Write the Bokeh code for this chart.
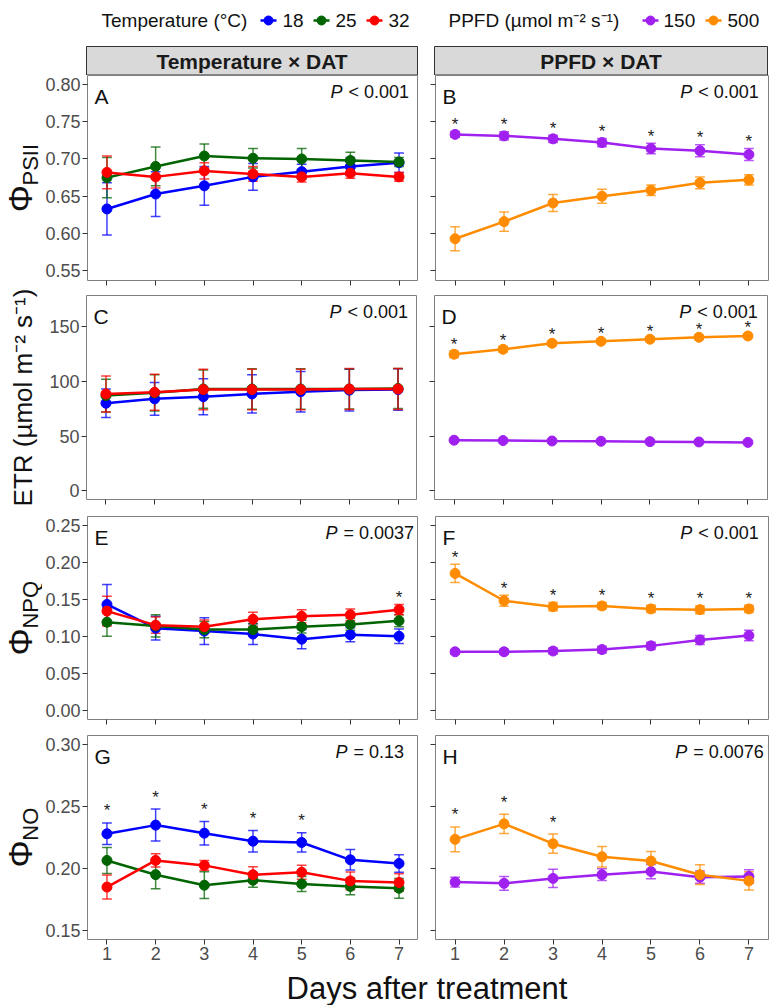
import math
from bokeh.plotting import figure
from bokeh.layouts import column, row
from bokeh.models import Label, Range1d, FixedTicker, NumeralTickFormatter, ColumnDataSource
from bokeh.embed import file_html
from bokeh.resources import INLINE
from bokeh.core.properties import value

FONT = "Liberation Sans"

# ---------------------------------------------------------------- data
days = [1, 2, 3, 4, 5, 6, 7]
temp_levels = ["18", "25", "32"]
ppfd_levels = ["150", "500"]

# Phi PSII
psii_temp_mean = {
    "18": [0.633, 0.653, 0.664, 0.676, 0.683, 0.690, 0.695],
    "25": [0.675, 0.690, 0.704, 0.701, 0.700, 0.698, 0.696],
    "32": [0.682, 0.676, 0.684, 0.680, 0.676, 0.681, 0.676],
}
psii_temp_se = {
    "18": [0.035, 0.030, 0.026, 0.018, 0.010, 0.012, 0.013],
    "25": [0.027, 0.026, 0.016, 0.013, 0.014, 0.011, 0.006],
    "32": [0.022, 0.015, 0.011, 0.010, 0.007, 0.007, 0.006],
}
psii_ppfd_mean = {
    "150": [0.733, 0.731, 0.727, 0.722, 0.714, 0.711, 0.706],
    "500": [0.593, 0.616, 0.641, 0.650, 0.658, 0.668, 0.672],
}
psii_ppfd_se = {
    "150": [0.004, 0.0055, 0.005, 0.0055, 0.007, 0.008, 0.008],
    "500": [0.016, 0.013, 0.0115, 0.0095, 0.007, 0.008, 0.007],
}

# ETR
etr_temp_mean = {
    "18": [80.0, 84.0, 86.0, 88.5, 90.5, 92.0, 92.5],
    "25": [87.0, 89.5, 93.0, 93.0, 93.0, 93.0, 93.5],
    "32": [88.5, 90.0, 92.5, 92.5, 92.5, 93.0, 93.0],
}
etr_temp_se = {
    "18": [13.0, 15.0, 16.5, 17.5, 18.5, 19.0, 19.0],
    "25": [15.0, 16.5, 17.5, 18.5, 18.5, 18.3, 18.3],
    "32": [16.5, 16.5, 18.5, 18.5, 18.5, 18.7, 18.7],
}
etr_ppfd_mean = {
    "150": [46.2, 45.9, 45.5, 45.2, 44.9, 44.6, 44.2],
    "500": [124.8, 129.3, 134.8, 136.6, 138.5, 140.3, 141.5],
}
etr_ppfd_se = {
    "150": [1.1, 1.0, 1.0, 1.0, 1.0, 1.0, 1.0],
    "500": [3.0, 2.5, 2.2, 2.0, 2.0, 2.0, 2.0],
}

# Phi NPQ
npq_temp_mean = {
    "18": [0.143, 0.111, 0.107, 0.103, 0.096, 0.102, 0.100],
    "25": [0.119, 0.114, 0.109, 0.109, 0.113, 0.116, 0.121],
    "32": [0.134, 0.115, 0.113, 0.123, 0.127, 0.129, 0.136],
}
npq_temp_se = {
    "18": [0.027, 0.016, 0.018, 0.014, 0.013, 0.0095, 0.0097],
    "25": [0.019, 0.015, 0.011, 0.008, 0.0085, 0.008, 0.008],
    "32": [0.020, 0.011, 0.009, 0.0095, 0.0088, 0.008, 0.0068],
}
npq_ppfd_mean = {
    "150": [0.079, 0.079, 0.080, 0.082, 0.087, 0.095, 0.101],
    "500": [0.185, 0.148, 0.140, 0.141, 0.137, 0.136, 0.137],
}
npq_ppfd_se = {
    "150": [0.003, 0.0035, 0.004, 0.0045, 0.005, 0.006, 0.007],
    "500": [0.0124, 0.0074, 0.0056, 0.0045, 0.005, 0.0054, 0.005],
}

# Phi NO
no_temp_mean = {
    "18": [0.228, 0.235, 0.2285, 0.222, 0.221, 0.207, 0.204],
    "25": [0.2065, 0.195, 0.1865, 0.1905, 0.1875, 0.1855, 0.184],
    "32": [0.185, 0.2065, 0.2025, 0.195, 0.197, 0.190, 0.1887],
}
no_temp_se = {
    "18": [0.0087, 0.0129, 0.0095, 0.0086, 0.0078, 0.0083, 0.007],
    "25": [0.0105, 0.0114, 0.0108, 0.0056, 0.006, 0.0067, 0.008],
    "32": [0.0097, 0.0054, 0.004, 0.0063, 0.0056, 0.0071, 0.007],
}
no_ppfd_mean = {
    "150": [0.189, 0.188, 0.192, 0.195, 0.1975, 0.193, 0.1935],
    "500": [0.2235, 0.236, 0.220, 0.2095, 0.206, 0.195, 0.190],
}
no_ppfd_se = {
    "150": [0.004, 0.0056, 0.0074, 0.0047, 0.0058, 0.005, 0.0054],
    "500": [0.010, 0.0077, 0.0078, 0.0083, 0.0077, 0.008, 0.0074],
}

# days with a significant difference between levels
stars_A = []
stars_B = [1, 2, 3, 4, 5, 6, 7]
stars_C = []
stars_D = [1, 2, 3, 4, 5, 6, 7]
stars_E = [7]
stars_F = [1, 2, 3, 4, 5, 6, 7]
stars_G = [1, 2, 3, 4, 5]
stars_H = [1, 2, 3]

p_values = {"A": "< 0.001", "B": "< 0.001", "C": "< 0.001", "D": "< 0.001",
            "E": "= 0.0037", "F": "< 0.001", "G": "= 0.13", "H": "= 0.0076"}

psii_ticks = [0.55, 0.60, 0.65, 0.70, 0.75, 0.80]
etr_ticks = [0, 50, 100, 150]
npq_ticks = [0.00, 0.05, 0.10, 0.15, 0.20, 0.25]
no_ticks = [0.15, 0.20, 0.25, 0.30]

TEMP_COLORS = {"18": "#0000FF", "25": "#006400", "32": "#FF0000"}
PPFD_COLORS = {"150": "#A020F0", "500": "#FF8C00"}

# ---------------------------------------------------------------- helpers
# Arial-compatible advance widths (em) for the characters used in labels
ADV = {"P": 0.667, "S": 0.667, "I": 0.278, "N": 0.722, "Q": 0.778, "O": 0.778,
       " ": 0.278, "<": 0.584, "=": 0.584, ".": 0.278, "Φ": 0.78}


def text_width(s, size):
    return sum(ADV.get(c, 0.556) for c in s) * size


TITLE_W = 42                 # column holding the y axis titles
LEFT_W, RIGHT_W = 331, 333   # panel frame widths
ROW_H = [205, 204, 203, 204]  # panel frame heights
ROW_GAP = [15, 17, 16, 30]    # space below each row of panels
HEADER_H = 75


def style_axes(p, show_x, show_y):
    p.xaxis.ticker = FixedTicker(ticks=days)
    for ax in (p.xaxis[0], p.yaxis[0]):
        ax.axis_line_color = None
        ax.major_tick_line_color = "#333333"
        ax.major_tick_out = 5
        ax.major_tick_in = 0
        ax.minor_tick_line_color = None
        ax.major_label_text_font = FONT
        ax.major_label_text_font_size = "18px"
        ax.major_label_text_color = "#4d4d4d"
        ax.major_label_standoff = 2
    if not show_x:
        p.xaxis.major_label_text_font_size = "1px"
        p.xaxis.major_label_text_color = None
        p.xaxis.major_label_standoff = 0
    if not show_y:
        p.yaxis.major_label_text_font_size = "1px"
        p.yaxis.major_label_text_color = None
        p.yaxis.major_label_standoff = 0
    p.xgrid.visible = False
    p.ygrid.visible = False
    p.outline_line_color = "#808080"
    p.outline_line_width = 1
    p.background_fill_color = "white"
    p.border_fill_color = "white"


def make_panel(means, ses, levels, colors, yr, yticks, fmt, row_i, left_col,
               letter, star_days, star_off):
    fw = LEFT_W if left_col else RIGHT_W
    fh = ROW_H[row_i]
    p = figure(frame_width=fw, frame_height=fh,
               x_range=Range1d(0.6, 7.4), y_range=Range1d(*yr),
               output_backend="svg", toolbar_location=None,
               min_border_left=86 - TITLE_W if left_col else 17,
               min_border_right=0 if left_col else 2,
               min_border_top=0, min_border_bottom=ROW_GAP[row_i])
    style_axes(p, show_x=(row_i == 3), show_y=left_col)
    p.yaxis.ticker = FixedTicker(ticks=yticks)
    p.yaxis.formatter = NumeralTickFormatter(format=fmt)

    sources = {}
    for lv in levels:
        m, s = means[lv], ses[lv]
        sources[lv] = ColumnDataSource(dict(
            x=days, y=m,
            lo=[a - b for a, b in zip(m, s)],
            hi=[a + b for a, b in zip(m, s)],
            xl=[d - 0.1 for d in days],
            xr=[d + 0.1 for d in days],
        ))
    # error bars
    for lv in levels:
        src, c = sources[lv], colors[lv]
        for x0, y0, x1, y1 in (("x", "lo", "x", "hi"), ("xl", "lo", "xr", "lo"),
                               ("xl", "hi", "xr", "hi")):
            p.segment(x0, y0, x1, y1, source=src, line_color=c, line_width=1.5,
                      line_alpha=0.75)
    # mean lines
    for lv in levels:
        p.line("x", "y", source=sources[lv], line_color=colors[lv], line_width=2.5)
    # mean points
    for lv in levels:
        p.scatter("x", "y", source=sources[lv], size=10,
                  fill_color=colors[lv], line_color=colors[lv])

    # significance marks above the highest error bar of each day
    if star_days:
        sy = [max(means[lv][d - 1] + ses[lv][d - 1] for lv in levels) for d in star_days]
        p.text(x=star_days, y=sy, text=["*"] * len(star_days),
               text_font=value(FONT), text_font_size="17px", text_color="#222222",
               text_align="center", text_baseline="alphabetic", y_offset=star_off)

    # panel letter
    p.add_layout(Label(x=7, y=fh - 9, x_units="screen", y_units="screen", text=letter,
                       text_font=FONT, text_font_size="21px", text_color="#111111",
                       text_align="left", text_baseline="top"))
    # P value, centred at day 6.4
    rest = p_values[letter]
    size = 18
    gap = 6
    w_p = text_width("P", size)
    total = w_p + gap + text_width(rest, size)
    p.add_layout(Label(x=6.4, y=fh - 16, x_units="data", y_units="screen", text="P",
                       x_offset=-total / 2, text_font=FONT, text_font_style="italic",
                       text_font_size=f"{size}px", text_color="#111111",
                       text_align="left", text_baseline="middle"))
    p.add_layout(Label(x=6.4, y=fh - 16, x_units="data", y_units="screen", text=rest,
                       x_offset=-total / 2 + w_p + gap, text_font=FONT,
                       text_font_size=f"{size}px", text_color="#111111",
                       text_align="left", text_baseline="middle"))
    return p


# ---------------------------------------------------------------- header
top = figure(width=769, height=HEADER_H, x_range=Range1d(0, 769),
             y_range=Range1d(HEADER_H, 0),
             output_backend="svg", toolbar_location=None, min_border=0,
             x_axis_location=None, y_axis_location=None)
top.xgrid.visible = False
top.ygrid.visible = False
top.outline_line_color = None
top.border_fill_color = "white"

top.quad(left=[86, 434], right=[417, 767], top=[46, 46], bottom=[74.5, 74.5],
         fill_color="#d9d9d9", line_color="#333333", line_width=1)
top.text(x=[251.5, 600.5], y=[61, 61], text=["Temperature × DAT", "PPFD × DAT"],
         text_font=value(FONT), text_font_style="bold", text_font_size="21px",
         text_color="#1a1a1a", text_align="center", text_baseline="middle")

leg_y = 20
top.text(x=[101, 448], y=[leg_y, leg_y],
         text=["Temperature (°C)", "PPFD (µmol m⁻² s⁻¹)"],
         text_font=value(FONT), text_font_size="19px", text_color="#111111",
         text_align="left", text_baseline="middle")
key_x = [268, 321, 374, 650, 713]
lab_x = [282, 335, 388, 663, 727]
key_lab = temp_levels + ppfd_levels
key_col = [TEMP_COLORS[k] for k in temp_levels] + [PPFD_COLORS[k] for k in ppfd_levels]
top.segment(x0=[k - 8 for k in key_x], y0=[leg_y] * 5, x1=[k + 8 for k in key_x],
            y1=[leg_y] * 5, line_color=key_col, line_width=2.5)
top.scatter(x=key_x, y=[leg_y] * 5, size=9, fill_color=key_col, line_color=key_col)
top.text(x=lab_x, y=[leg_y] * 5, text=key_lab, text_font=value(FONT),
         text_font_size="19px", text_color="#111111",
         text_align="left", text_baseline="middle")

# ---------------------------------------------------------------- panels
pA = make_panel(psii_temp_mean, psii_temp_se, temp_levels, TEMP_COLORS, (0.537, 0.812),
                psii_ticks, "0.00", 0, True, "A", stars_A, -7)
pB = make_panel(psii_ppfd_mean, psii_ppfd_se, ppfd_levels, PPFD_COLORS, (0.537, 0.812),
                psii_ticks, "0.00", 0, False, "B", stars_B, -7)
pC = make_panel(etr_temp_mean, etr_temp_se, temp_levels, TEMP_COLORS, (-8, 178.5),
                etr_ticks, "0", 1, True, "C", stars_C, -6)
pD = make_panel(etr_ppfd_mean, etr_ppfd_se, ppfd_levels, PPFD_COLORS, (-8, 178.5),
                etr_ticks, "0", 1, False, "D", stars_D, -6)
pE = make_panel(npq_temp_mean, npq_temp_se, temp_levels, TEMP_COLORS, (-0.0126, 0.262),
                npq_ticks, "0.00", 2, True, "E", stars_E, -7)
pF = make_panel(npq_ppfd_mean, npq_ppfd_se, ppfd_levels, PPFD_COLORS, (-0.0126, 0.262),
                npq_ticks, "0.00", 2, False, "F", stars_F, -7)
pG = make_panel(no_temp_mean, no_temp_se, temp_levels, TEMP_COLORS, (0.1427, 0.3073),
                no_ticks, "0.00", 3, True, "G", stars_G, -12)
pH = make_panel(no_ppfd_mean, no_ppfd_se, ppfd_levels, PPFD_COLORS, (0.1427, 0.3073),
                no_ticks, "0.00", 3, False, "H", stars_H, -12)

# ---------------------------------------------------------------- y axis titles
body_h = sum(ROW_H) + sum(ROW_GAP)
ytitles = figure(width=TITLE_W, height=body_h, x_range=Range1d(0, TITLE_W),
                 y_range=Range1d(0, body_h), output_backend="svg",
                 toolbar_location=None, min_border=0,
                 x_axis_location=None, y_axis_location=None)
ytitles.xgrid.visible = False
ytitles.ygrid.visible = False
ytitles.outline_line_color = None
ytitles.border_fill_color = "white"

# vertical centre of every row of panels, measured upward from the bottom
row_centres = []
acc = body_h
for h, g in zip(ROW_H, ROW_GAP):
    row_centres.append(acc - h / 2)
    acc -= h + g


def phi_title(yc, sub):
    big, small = 34, 22
    w1 = text_width("Φ", big)
    w2 = text_width(sub, small)
    start = yc - (w1 + w2) / 2
    ytitles.text(x=[19], y=[start + w1 / 2], text=["Φ"], angle=math.pi / 2,
                 text_font=value(FONT), text_font_size=f"{big}px", text_color="#111111",
                 text_align="center", text_baseline="middle")
    ytitles.text(x=[30], y=[start + w1 + w2 / 2], text=[sub], angle=math.pi / 2,
                 text_font=value(FONT), text_font_size=f"{small}px", text_color="#111111",
                 text_align="center", text_baseline="middle")


phi_title(row_centres[0], "PSII")
ytitles.text(x=[22], y=[row_centres[1]], text=["ETR (µmol m⁻² s⁻¹)"], angle=math.pi / 2,
             text_font=value(FONT), text_font_size="26px", text_color="#111111",
             text_align="center", text_baseline="middle")
phi_title(row_centres[2], "NPQ")
phi_title(row_centres[3], "NO")

# ---------------------------------------------------------------- x title
bottom = figure(width=769, height=36, x_range=Range1d(0, 769), y_range=Range1d(36, 0),
                output_backend="svg", toolbar_location=None, min_border=0,
                x_axis_location=None, y_axis_location=None)
bottom.xgrid.visible = False
bottom.ygrid.visible = False
bottom.outline_line_color = None
bottom.text(x=[426.5], y=[19], text=["Days after treatment"], text_font=value(FONT),
            text_font_size="31px", text_color="#111111",
            text_align="center", text_baseline="middle")

panels = column(row(pA, pB), row(pC, pD), row(pE, pF), row(pG, pH))
layout = column(top, row(ytitles, panels), bottom)

with open("out.html", "w") as f:
    f.write(file_html(layout, INLINE))
